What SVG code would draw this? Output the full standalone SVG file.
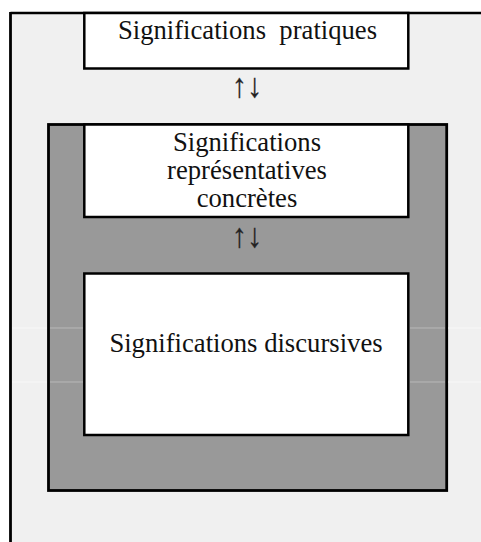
<svg xmlns="http://www.w3.org/2000/svg" width="481" height="542" viewBox="0 0 481 542">
<style>
.box{fill:#ffffff;stroke:#000000;stroke-width:2.5}
.lbl{font-family:"Liberation Serif","Times New Roman",serif;font-size:26.67px;fill:#111111;text-anchor:middle;white-space:pre}
.arr{font-family:"Liberation Serif","Times New Roman",serif;font-size:34px;fill:#222222;stroke:#222222;stroke-width:0.25;text-anchor:middle}
.faintd{stroke:#b8b8b8;stroke-width:1}
.faintl{stroke:#f8f8f8;stroke-width:1}
</style>
<rect x="0" y="0" width="481" height="542" fill="#ffffff"/>
<rect x="10.5" y="13" width="471" height="530" fill="#f0f0f0"/>
<g id="frame">
<line x1="10.5" y1="13" x2="481" y2="13" stroke="#000" stroke-width="2.5"/>
<line x1="10.5" y1="12" x2="10.5" y2="542" stroke="#000" stroke-width="2.8"/>
</g>
<g id="group-outer">
<rect x="48.5" y="124.5" width="398.2" height="366" fill="#999999" stroke="#000" stroke-width="2.8"/>
</g>
<g id="faint-lines">
<line class="faintl" x1="12" y1="328" x2="47" y2="328"/>
<line class="faintl" x1="12" y1="382" x2="47" y2="382"/>
<line class="faintd" x1="50" y1="328" x2="83" y2="328"/>
<line class="faintd" x1="50" y1="382" x2="83" y2="382"/>
<line class="faintd" x1="410" y1="328" x2="445" y2="328"/>
<line class="faintd" x1="410" y1="382" x2="445" y2="382"/>
<line class="faintl" x1="448" y1="328" x2="481" y2="328"/>
<line class="faintl" x1="448" y1="382" x2="481" y2="382"/>
</g>
<g id="node-pratiques">
<rect class="box" x="84.3" y="13" width="324" height="55.5"/>
<text class="lbl" x="247.5" y="38.5" xml:space="preserve">Significations  pratiques</text>
</g>
<g id="node-representatives">
<rect class="box" x="84.3" y="124.5" width="324" height="92.5"/>
<text class="lbl" x="247" y="151">Significations</text>
<text class="lbl" x="247" y="179">représentatives</text>
<text class="lbl" x="247" y="207">concrètes</text>
</g>
<g id="node-discursives">
<rect class="box" x="84.3" y="273.5" width="324" height="161.5"/>
<text class="lbl" x="246" y="352">Significations discursives</text>
</g>
<g id="connectors">
<text class="arr" x="247" y="97" transform="translate(247 0) scale(0.9 1) translate(-247 0)">↑↓</text>
<text class="arr" x="247" y="247" transform="translate(247 0) scale(0.9 1) translate(-247 0)">↑↓</text>
</g>
</svg>
